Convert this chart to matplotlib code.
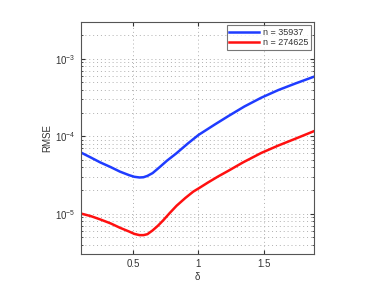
import matplotlib
matplotlib.use("Agg")
import matplotlib.pyplot as plt
import numpy as np
from matplotlib.ticker import LogLocator, NullFormatter

plt.rcParams['font.family'] = ['Liberation Sans', 'DejaVu Sans']
plt.rcParams['mathtext.fontset'] = 'custom'
plt.rcParams['mathtext.rm'] = 'Liberation Sans'
plt.rcParams['mathtext.it'] = 'Liberation Sans:italic'

delta_a = [0.10, 0.18, 0.25, 0.33, 0.40, 0.47, 0.51, 0.55, 0.58, 0.61, 0.65, 0.70, 0.76, 0.83, 0.92,
           1.00, 1.125, 1.23, 1.35, 1.48, 1.61, 1.74, 1.885]
rmse_35937 = [6.2e-5, 5.3e-5, 4.6e-5, 4.0e-5, 3.5e-5, 3.15e-5, 3.0e-5, 2.94e-5, 2.96e-5, 3.08e-5,
              3.35e-5, 3.95e-5, 4.85e-5, 6.0e-5, 8.1e-5,
              1.04e-4, 1.42e-4, 1.83e-4, 2.42e-4, 3.15e-4, 3.95e-4, 4.8e-4, 5.9e-4]
delta_b = [0.10, 0.18, 0.25, 0.33, 0.40, 0.47, 0.51, 0.55, 0.58, 0.61, 0.65, 0.69, 0.73, 0.78, 0.833,
           0.90, 0.96, 1.00, 1.074, 1.15, 1.23, 1.34, 1.48, 1.61, 1.74, 1.885]
rmse_274625 = [1.01e-5, 9.3e-6, 8.45e-6, 7.5e-6, 6.6e-6, 5.9e-6, 5.5e-6, 5.3e-6, 5.3e-6, 5.45e-6,
               6.1e-6, 7.0e-6, 8.2e-6, 1.02e-5, 1.27e-5,
               1.6e-5, 1.93e-5, 2.12e-5, 2.54e-5, 3.03e-5, 3.6e-5, 4.6e-5, 6.1e-5, 7.6e-5, 9.3e-5, 1.17e-4]
labels = ["n = 35937", "n = 274625"]

fig = plt.figure(figsize=(3.82, 2.87), dpi=100)
ax = fig.add_axes([0.211, 0.114, 0.612, 0.810])
ax.plot(delta_a, rmse_35937, color="#1f3cff", lw=1.8, label=labels[0])
ax.plot(delta_b, rmse_274625, color="#ff1010", lw=1.8, label=labels[1])
ax.set_yscale("log")
ax.set_xlim(0.1, 1.885)
ax.set_ylim(3e-6, 3e-3)
ax.set_xticks([0.5, 1, 1.5])
ax.set_xticklabels(["0.5", "1", "1.5"])
ax.yaxis.set_major_locator(LogLocator(base=10, numticks=10))
ax.yaxis.set_minor_locator(LogLocator(base=10, subs=np.arange(2, 10), numticks=20))
ax.yaxis.set_minor_formatter(NullFormatter())
ax.grid(True, which="major", axis="both", color="#b0b0b0", ls=(0, (1, 3)), lw=0.7)
ax.grid(True, which="minor", axis="y", color="#b0b0b0", ls=(0, (1, 3)), lw=0.7)
ax.tick_params(which="both", direction="in", labelsize=7, colors="#333333", top=True, right=True)
ax.tick_params(which="major", length=3)
ax.tick_params(which="minor", length=1.5)
for s in ax.spines.values():
    s.set_color("#555555")
    s.set_linewidth(0.8)
ax.set_xlabel("δ", fontsize=7, color="#333333", labelpad=2)
ax.set_ylabel("RMSE", fontsize=7, color="#333333", labelpad=2)
leg = ax.legend(loc="upper right", fontsize=6.5, frameon=True, fancybox=False,
                handlelength=3.3, borderpad=0.3, labelspacing=0.15, handletextpad=0.4,
                borderaxespad=0.4)
leg.get_frame().set_edgecolor("#555555")
leg.get_frame().set_linewidth(0.8)
for t in leg.get_texts():
    t.set_color("#333333")
fig.savefig("out.png", dpi=100)
